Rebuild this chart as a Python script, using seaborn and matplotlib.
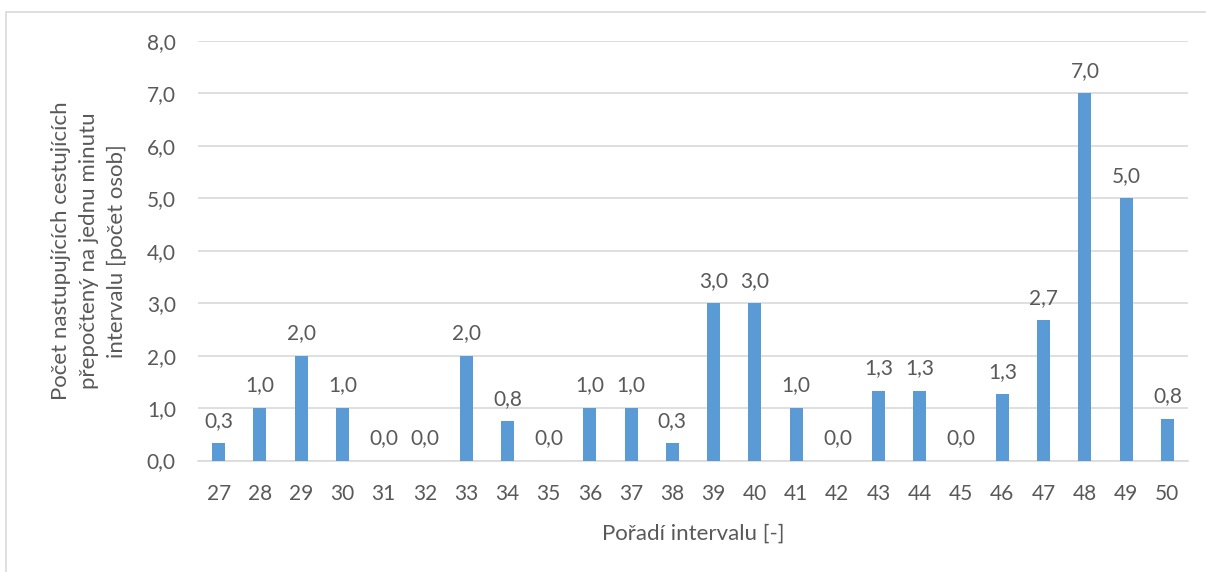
import matplotlib
matplotlib.use("Agg")
import matplotlib.pyplot as plt
import matplotlib.patches as mpatches
import seaborn as sns
import pandas as pd

# Interval order and boarding passengers per minute
intervals = ["27", "28", "29", "30", "31", "32", "33", "34", "35", "36", "37", "38",
             "39", "40", "41", "42", "43", "44", "45", "46", "47", "48", "49", "50"]
passengers = [0.33, 1.0, 2.0, 1.0, 0.0, 0.0, 2.0, 0.75, 0.0, 1.0, 1.0, 0.33,
              3.0, 3.0, 1.0, 0.0, 1.33, 1.33, 0.0, 1.26, 2.67, 7.0, 5.0, 0.8]
y_ticks = [0, 1, 2, 3, 4, 5, 6, 7, 8]

df = pd.DataFrame({"interval": intervals, "value": passengers})

sns.set_theme(style="white")
plt.rcParams["font.family"] = ["Lato", "DejaVu Sans"]

text_color = "#595959"
grid_color = "#d9d9d9"
bar_color = "#5b9bd5"

fig = plt.figure(figsize=(12.06, 5.72), dpi=100)
ax = fig.add_axes([198 / 1206, 1 - 460.5 / 572, (1188 - 198) / 1206, (460.5 - 41) / 572])

sns.barplot(data=df, x="interval", y="value", color=bar_color, width=0.31,
            saturation=1, linewidth=0, ax=ax, zorder=3)

ax.set_ylim(0, 8)
ax.set_xlim(-0.5, len(intervals) - 0.5)
ax.set_yticks(y_ticks)
ax.set_yticklabels([f"{t:.1f}".replace(".", ",") for t in y_ticks])

ax.yaxis.grid(True, color=grid_color, linewidth=1.2, zorder=0)
ax.xaxis.grid(False)
for side in ["top", "right", "left"]:
    ax.spines[side].set_visible(False)
ax.spines["bottom"].set_color(grid_color)
ax.spines["bottom"].set_linewidth(1.2)

ax.tick_params(axis="x", length=0, pad=17, labelsize=15, labelcolor=text_color)
ax.tick_params(axis="y", length=0, pad=16, labelsize=15, labelcolor=text_color)

# Value labels above each bar
for i, v in enumerate(passengers):
    ax.annotate(f"{v:.1f}".replace(".", ","), xy=(i, v), xytext=(0, 9),
                textcoords="offset points", ha="center", va="bottom",
                fontsize=15, color=text_color)

ax.set_xlabel("Pořadí intervalu [-]", fontsize=16, color=text_color, labelpad=14)
ax.set_ylabel("Počet nastupujících cestujících\npřepočtený na jednu minutu\nintervalu [počet osob]",
              fontsize=16, color=text_color, labelpad=14, linespacing=1.5)

# Light frame around the chart area
fig.patches.append(mpatches.Rectangle((6 / 1206, -0.05), 1.2, 1 - 12 / 572 + 0.05,
                                      transform=fig.transFigure, fill=False,
                                      edgecolor=grid_color, linewidth=1.2))

fig.savefig("out.png", dpi=100, facecolor="white")
